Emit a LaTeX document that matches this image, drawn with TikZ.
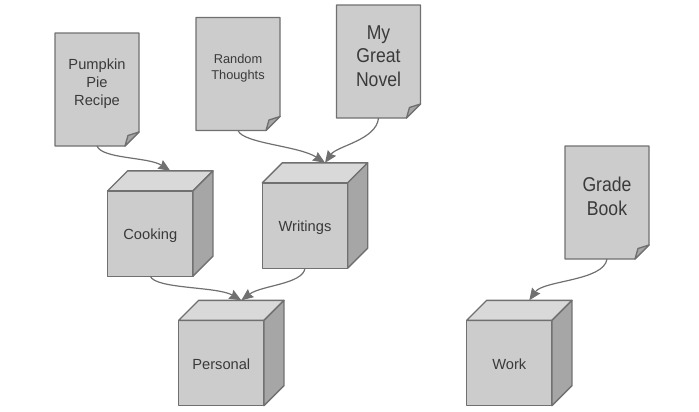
\documentclass[tikz,border=0pt]{standalone}
\usepackage{fontspec}
\setmainfont{Liberation Sans}
\newfontfamily\narrowsans[FakeStretch=0.88]{Liberation Sans}
\usetikzlibrary{arrows.meta,calc}
\definecolor{facegray}{HTML}{CCCCCC}
\definecolor{topgray}{HTML}{D9D9D9}
\definecolor{sidegray}{HTML}{A6A6A6}
\definecolor{edgegray}{HTML}{707070}
\definecolor{inkgray}{HTML}{3A3A3A}
\tikzset{
  x=0.75pt,y=-0.75pt,
  faceline/.style={draw=edgegray,line width=1pt,line join=round},
  docanchor/.style={minimum width=63pt,minimum height=84.75pt,inner sep=0pt,outer sep=0pt},
  doctext/.style={text=inkgray,align=center,inner sep=0pt},
  smalltext/.style={doctext,font=\fontsize{9.6}{12}\selectfont},
  midtext/.style={doctext,font=\fontsize{11}{13.5}\selectfont},
  bigtext/.style={doctext,font=\narrowsans\fontsize{15}{17.6}\selectfont},
  cubeface/.style={faceline,fill=facegray,text=inkgray,minimum width=64pt,minimum height=64pt,
    inner sep=0pt,outer sep=0pt,text height=9pt,text depth=0pt,font=\fontsize{11}{13}\selectfont},
  conn/.style={draw=edgegray,line width=0.9pt,-{Stealth[length=9pt,width=7.5pt,inset=1pt]}},
}
\newcommand{\docshape}[2]{%
  \node[docanchor] (#1) at (#2) {};
  \draw[faceline,fill=facegray] (#1.north west) -- (#1.north east) -- ($(#1.south east)+(0,-14)$)
    -- ($(#1.south east)+(-14,0)$) -- (#1.south west) -- cycle;
  \draw[faceline,fill=sidegray] ($(#1.south east)+(0,-14)$) -- ($(#1.south east)+(-11,-10.5)$)
    -- ($(#1.south east)+(-14,0)$) -- cycle;
}
\newcommand{\cubeshape}[3]{%
  \node[cubeface] (#1) at (#2) {#3};
  \draw[faceline,fill=topgray] (#1.north west) -- ($(#1.north west)+(20,-20)$)
    -- ($(#1.north east)+(20,-20)$) -- (#1.north east) -- cycle;
  \draw[faceline,fill=sidegray] (#1.north east) -- ($(#1.north east)+(20,-20)$)
    -- ($(#1.south east)+(20,-20)$) -- (#1.south east) -- cycle;
  \coordinate (#1 top) at ($(#1.north)+(20,-20)$);
}
\begin{document}
\begin{tikzpicture}
\useasboundingbox (0,0) rectangle (699,411);
\docshape{pumpkin}{97,89.5}
\node[midtext] (pumpkintext) at (97,83.5) {Pumpkin\\Pie\\Recipe};
\docshape{random}{238,74}
\node[smalltext] (randomtext) at (238,68.5) {Random\\Thoughts};
\docshape{novel}{378.5,61.5}
\node[bigtext] (noveltext) at (378.5,56) {My\\Great\\Novel};
\docshape{grade}{607,202.5}
\node[bigtext] (gradetext) at (607,196.5) {Grade\\Book};
\cubeshape{cooking}{150.3,233.5}{Cooking}
\cubeshape{writings}{305,225.5}{Writings}
\cubeshape{personal}{221.3,363}{Personal}
\cubeshape{work}{509.3,363}{Work}
\draw[conn] (pumpkin.south) .. controls +(5,13) and +(-22,-14) .. (cooking top);
\draw[conn] (random.south) .. controls +(5,13) and +(-26,-17) .. (writings top);
\draw[conn] (novel.south) .. controls +(-2,22) and +(12,-17) .. (writings top);
\draw[conn] (cooking.south) .. controls +(5,13) and +(-24,-14) .. (personal top);
\draw[conn] (writings.south) .. controls +(-2,16) and +(20,-15) .. (personal top);
\draw[conn] (grade.south) .. controls +(-3,22) and +(14,-20) .. (work top);
\end{tikzpicture}
\end{document}
